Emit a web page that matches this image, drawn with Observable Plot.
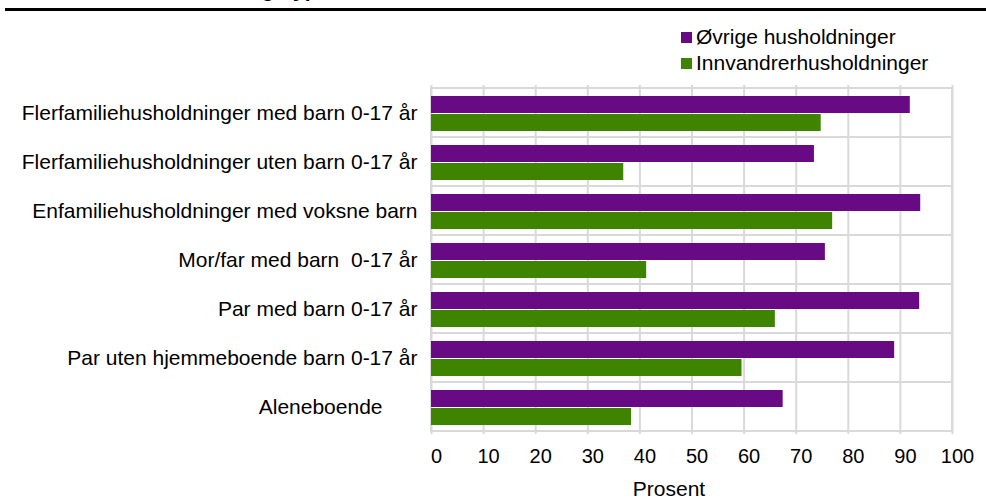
<!DOCTYPE html>
<html>
<head>
<meta charset="utf-8">
<script src="https://cdn.jsdelivr.net/npm/d3@7"></script>
<script src="https://cdn.jsdelivr.net/npm/@observablehq/plot@0.6"></script>
<style>
  body { margin: 0; background: #fff; font-family: "Liberation Sans", Arial, sans-serif; }
  #wrap { position: relative; width: 986px; height: 500px; overflow: hidden; }
  #chart { position: absolute; left: 0; top: 0; }
  #title { position: absolute; left: 146px; top: -21px; font-size: 21px; font-weight: bold; line-height: 21px; white-space: nowrap; color: #000; }
  #rule { position: absolute; left: 5px; right: 0; top: 8px; height: 3px; background: #000; }
  .leg { position: absolute; left: 681px; font-size: 21px; line-height: 24px; color: #000; white-space: nowrap; }
  .leg span.sw { display: inline-block; width: 11px; height: 11px; margin-right: 4px; vertical-align: 1px; }
</style>
</head>
<body>
<div id="wrap">
  <div id="chart"></div>
  <div id="title">Husholdningstype</div>
  <div id="rule"></div>
  <div id="legend"></div>
</div>
<script>
const categories = [
  "Flerfamiliehusholdninger med barn 0-17 år",
  "Flerfamiliehusholdninger uten barn 0-17 år",
  "Enfamiliehusholdninger med voksne barn",
  "Mor/far med barn  0-17 år",
  "Par med barn 0-17 år",
  "Par uten hjemmeboende barn 0-17 år",
  "Aleneboende      "
];
const series = ["Øvrige husholdninger", "Innvandrerhusholdninger"];
const ovrige = [91.9, 73.5, 93.9, 75.6, 93.7, 88.9, 67.5];
const innvandrer = [74.8, 36.9, 77.0, 41.3, 66.0, 59.6, 38.4];
const colors = ["#680a84", "#3f8400"];
const xTicks = [0, 10, 20, 30, 40, 50, 60, 70, 80, 90, 100];
const xLabel = "Prosent";

const rowsA = categories.map((c, i) => ({category: c, value: ovrige[i]}));
const rowsB = categories.map((c, i) => ({category: c, value: innvandrer[i]}));

const chart = Plot.plot({
  width: 986,
  height: 500,
  marginLeft: 431,
  marginRight: 34,
  marginTop: 85,
  marginBottom: 66,
  style: {fontFamily: "'Liberation Sans', Arial, sans-serif", fontSize: "21px", color: "#000", background: "#fff"},
  x: {domain: [0, 100]},
  y: {domain: categories, padding: 0},
  marks: [
    Plot.ruleX(xTicks, {stroke: "#d9d9d9", strokeWidth: 2, strokeOpacity: 1}),
    Plot.barX(categories, {y: d => d, x1: 0, x2: 100, fill: "none", stroke: "#d9d9d9", strokeWidth: 2}),
    Plot.barX(rowsA, {y: "category", x: "value", fill: colors[0], insetTop: 8, insetBottom: 24}),
    Plot.barX(rowsB, {y: "category", x: "value", fill: colors[1], insetTop: 26, insetBottom: 6}),
    Plot.axisY({tickSize: 0, tickPadding: 14, label: null, fontSize: 21,
      tickFormat: d => d.replace(/ /g, "\u00a0")}),
    Plot.axisX(xTicks, {tickSize: 0, tickPadding: 14, label: null, fontSize: 20, dx: 5}),
    Plot.text([xLabel], {text: d => d, frameAnchor: "bottom", dy: 55, dx: -23, fontSize: 21, lineAnchor: "middle", fill: "#000"})
  ]
});
document.getElementById("chart").appendChild(chart);

const legend = document.getElementById("legend");
series.forEach((s, i) => {
  const d = document.createElement("div");
  d.className = "leg";
  d.style.top = (25 + i * 26) + "px";
  d.innerHTML = `<span class="sw" style="background:${colors[i]}"></span>${s}`;
  legend.appendChild(d);
});
</script>
</body>
</html>
